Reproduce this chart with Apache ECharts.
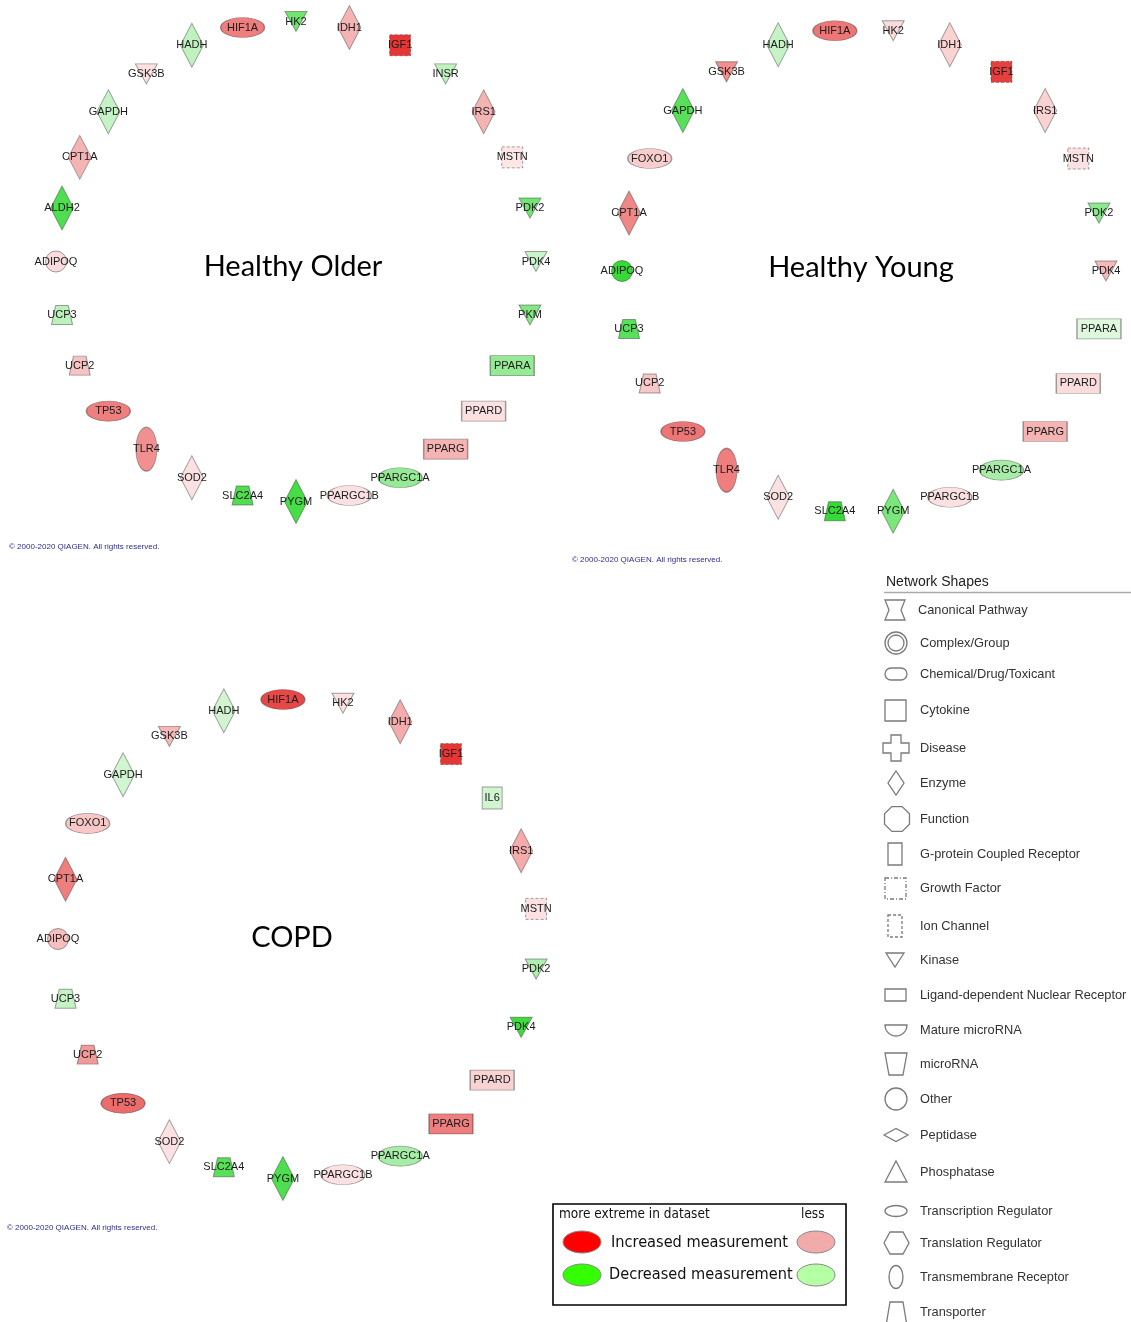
<!DOCTYPE html>
<html>
<head>
<meta charset="utf-8">
<script src="https://cdn.jsdelivr.net/npm/echarts@6/dist/echarts.min.js"></script>
<style>
  html, body { margin: 0; padding: 0; background: #ffffff; }
  #chart { width: 1131px; height: 1322px; }
</style>
</head>
<body>
<div id="chart"></div>
<script>
// Genes of each network, in the order they sit around the circle (alphabetical, clockwise from the left)
const olderGenes = ['ADIPOQ','ALDH2','CPT1A','GAPDH','GSK3B','HADH','HIF1A','HK2','IDH1','IGF1','INSR','IRS1','MSTN','PDK2','PDK4','PKM','PPARA','PPARD','PPARG','PPARGC1A','PPARGC1B','PYGM','SLC2A4','SOD2','TLR4','TP53','UCP2','UCP3'];
const olderValues = [0.7,-2.6,1.5,-1.1,0.6,-1.2,2.1,-2.2,1.5,2.9,-1.2,1.5,0.5,-2.2,-1.0,-2.0,-1.8,0.6,1.5,-1.8,0.6,-2.7,-2.6,0.6,1.9,2.1,1.2,-1.3];

const youngGenes = ['ADIPOQ','CPT1A','FOXO1','GAPDH','GSK3B','HADH','HIF1A','HK2','IDH1','IGF1','IRS1','MSTN','PDK2','PDK4','PPARA','PPARD','PPARG','PPARGC1A','PPARGC1B','PYGM','SLC2A4','SOD2','TLR4','TP53','UCP2','UCP3'];
const youngValues = [-2.9,2.0,1.0,-2.5,1.9,-1.1,2.2,0.7,0.9,2.8,0.9,0.6,-1.9,1.4,-0.6,0.7,1.5,-1.6,0.6,-2.1,-2.9,0.6,2.1,2.2,1.1,-2.5];

const copdGenes = ['ADIPOQ','CPT1A','FOXO1','GAPDH','GSK3B','HADH','HIF1A','HK2','IDH1','IGF1','IL6','IRS1','MSTN','PDK2','PDK4','PPARD','PPARG','PPARGC1A','PPARGC1B','PYGM','SLC2A4','SOD2','TP53','UCP2','UCP3'];
const copdValues = [1.3,2.1,1.1,-0.9,1.4,-0.9,2.7,0.6,1.6,2.9,-0.9,1.6,0.6,-1.5,-2.8,0.9,2.1,-1.6,0.6,-2.6,-2.5,0.6,2.3,1.8,-1.1];

const networkTitles = ['Healthy Older','Healthy Young','COPD'];

// Molecule type of each gene (decides the node shape)
const geneType = {
  ADIPOQ:'other', ALDH2:'enzyme', CPT1A:'enzyme', FOXO1:'transcription', GAPDH:'enzyme',
  GSK3B:'kinase', HADH:'enzyme', HIF1A:'transcription', HK2:'kinase', IDH1:'enzyme',
  IGF1:'growth', IL6:'cytokine', INSR:'kinase', IRS1:'enzyme', MSTN:'growth',
  PDK2:'kinase', PDK4:'kinase', PKM:'kinase', PPARA:'nuclear', PPARD:'nuclear',
  PPARG:'nuclear', PPARGC1A:'transcription', PPARGC1B:'transcription', PYGM:'enzyme',
  SLC2A4:'transporter', SOD2:'enzyme', TLR4:'transmembrane', TP53:'transcription',
  UCP2:'transporter', UCP3:'transporter'
};

const shapeNames = ['Canonical Pathway','Complex/Group','Chemical/Drug/Toxicant','Cytokine','Disease','Enzyme','Function','G-protein Coupled Receptor','Growth Factor','Ion Channel','Kinase','Ligand-dependent Nuclear Receptor','Mature microRNA','microRNA','Other','Peptidase','Phosphatase','Transcription Regulator','Translation Regulator','Transmembrane Receptor','Transporter'];

const ELLIPSE = 'path://M0,1C0,0.4477,0.4477,0,1,0C1.5523,0,2,0.4477,2,1C2,1.5523,1.5523,2,1,2C0.4477,2,0,1.5523,0,1Z';
const SHAPES = {
  enzyme:        { symbol: 'diamond', size: [23, 44] },
  kinase:        { symbol: 'path://M0,0L20,0L10,20Z', size: [22, 20] },
  transcription: { symbol: ELLIPSE, size: [44, 20] },
  transmembrane: { symbol: ELLIPSE, size: [21, 44] },
  growth:        { symbol: 'rect', size: [21, 21], dashed: true },
  cytokine:      { symbol: 'rect', size: [20, 22] },
  nuclear:       { symbol: 'rect', size: [44, 20] },
  transporter:   { symbol: 'path://M4,0L16,0L20,20L0,20Z', size: [21, 19] },
  other:         { symbol: 'circle', size: [21, 21] }
};

const networks = [
  { genes: olderGenes, values: olderValues, center: [296, 261.5], radius: 240 },
  { genes: youngGenes, values: youngValues, center: [864, 271], radius: 242 },
  { genes: copdGenes,  values: copdValues,  center: [298, 939], radius: 240 }
];

const LABEL_FONT = '"Liberation Sans", Arial, sans-serif';

const polar = networks.map(n => ({ center: n.center, radius: n.radius }));
const angleAxis = networks.map((n, i) => ({
  polarIndex: i, type: 'category', data: n.genes, show: false,
  startAngle: 180 + 180 / n.genes.length, clockwise: true
}));
const radiusAxis = networks.map((n, i) => ({
  polarIndex: i, type: 'value', min: 0, max: 1, show: false
}));

const series = networks.map((n, idx) => ({
  type: 'scatter',
  coordinateSystem: 'polar',
  polarIndex: idx,
  silent: true,
  animation: false,
  data: n.genes.map((g, i) => {
    const s = SHAPES[geneType[g]];
    const item = { name: g, value: [1, i, n.values[i]], symbol: s.symbol, symbolSize: s.size };
    if (s.dashed) item.itemStyle = { borderType: [3, 2] };
    return item;
  }),
  itemStyle: { borderColor: 'rgba(50,50,50,0.45)', borderWidth: 1, opacity: 1 },
  label: {
    show: true, position: 'inside', formatter: '{b}',
    color: '#1c1c1c', fontSize: 11, fontFamily: LABEL_FONT
  }
}));

// Legend of node shapes
const iconStyle = { fill: 'none', stroke: '#7b7b7b', lineWidth: 1.3 };
const rowY = [610,643,674,710,748,783,819,854,888,926,960,995,1030,1064,1099,1135,1172,1211,1243,1277,1312];
function pts(list, dx, dy) { return list.map(p => [p[0] + dx, p[1] + dy]); }
function halfEllipse(cx, top, rx, ry) {
  const p = [];
  for (let k = 0; k <= 24; k++) {
    const a = Math.PI * k / 24;
    p.push([cx + rx * Math.cos(a), top + ry * Math.sin(a)]);
  }
  return p;
}
function octagon(cx, cy, r) {
  const p = [];
  for (let k = 0; k < 8; k++) {
    const a = Math.PI / 8 + k * Math.PI / 4;
    p.push([cx + r * Math.cos(a), cy + r * Math.sin(a)]);
  }
  return p;
}
const icons = [
  { type: 'polygon', shape: { points: pts([[-10,-10],[10,-10],[6,0],[10,10],[-10,10],[-6,0]], 895, rowY[0]) }, style: iconStyle },
  { type: 'group', children: [
    { type: 'circle', shape: { cx: 896, cy: rowY[1], r: 11 }, style: iconStyle },
    { type: 'circle', shape: { cx: 896, cy: rowY[1], r: 8 }, style: iconStyle }
  ]},
  { type: 'rect', shape: { x: 885, y: rowY[2] - 6, width: 22, height: 12, r: 6 }, style: iconStyle },
  { type: 'rect', shape: { x: 885, y: rowY[3] - 10, width: 21, height: 21 }, style: iconStyle },
  { type: 'polygon', shape: { points: pts([[-5,-13],[5,-13],[5,-5],[13,-5],[13,5],[5,5],[5,13],[-5,13],[-5,5],[-13,5],[-13,-5],[-5,-5]], 896, rowY[4]) }, style: iconStyle },
  { type: 'polygon', shape: { points: pts([[0,-12],[8,0],[0,12],[-8,0]], 896, rowY[5]) }, style: iconStyle },
  { type: 'polygon', shape: { points: octagon(897, rowY[6], 13.5) }, style: iconStyle },
  { type: 'rect', shape: { x: 888, y: rowY[7] - 11, width: 14, height: 22 }, style: iconStyle },
  { type: 'rect', shape: { x: 885, y: rowY[8] - 10, width: 21, height: 21 }, style: Object.assign({ lineDash: [4, 2, 1, 2] }, iconStyle) },
  { type: 'rect', shape: { x: 888, y: rowY[9] - 11, width: 14, height: 22 }, style: Object.assign({ lineDash: [3, 2] }, iconStyle) },
  { type: 'polygon', shape: { points: pts([[-9,-7],[9,-7],[0,7]], 895, rowY[10]) }, style: iconStyle },
  { type: 'rect', shape: { x: 885, y: rowY[11] - 6, width: 21, height: 12 }, style: iconStyle },
  { type: 'polygon', shape: { points: halfEllipse(896, rowY[12] - 5, 11, 11) }, style: iconStyle },
  { type: 'polygon', shape: { points: pts([[-11,-11],[11,-11],[7,11],[-7,11]], 896, rowY[13]) }, style: iconStyle },
  { type: 'circle', shape: { cx: 896, cy: rowY[14], r: 11 }, style: iconStyle },
  { type: 'polygon', shape: { points: pts([[-12,0],[0,-6.5],[12,0],[0,6.5]], 896, rowY[15]) }, style: iconStyle },
  { type: 'polygon', shape: { points: pts([[0,-11],[11,10],[-11,10]], 896, rowY[16]) }, style: iconStyle },
  { type: 'ellipse', shape: { cx: 896, cy: rowY[17], rx: 11, ry: 5.5 }, style: iconStyle },
  { type: 'polygon', shape: { points: pts([[-12,0],[-6,-11],[7,-11],[13,0],[7,11],[-6,11]], 896, rowY[18]) }, style: iconStyle },
  { type: 'ellipse', shape: { cx: 896, cy: rowY[19], rx: 7, ry: 11.5 }, style: iconStyle },
  { type: 'polygon', shape: { points: pts([[-6,-10],[7,-10],[12,20],[-11,20]], 896, rowY[20]) }, style: iconStyle }
];
const shapeTexts = shapeNames.map((t, i) => ({
  type: 'text', x: i === 0 ? 918 : 920, y: rowY[i],
  style: { text: t, fill: '#333', fontSize: 12.8, fontFamily: LABEL_FONT, align: 'left', verticalAlign: 'middle', textAlign: 'left', textVerticalAlign: 'middle' }
}));

function txt(t, x, y, size, family, color, align) {
  return { type: 'text', x: x, y: y, style: {
    text: t, fill: color, fontSize: size, fontFamily: family,
    align: align || 'left', verticalAlign: 'middle',
    textAlign: align || 'left', textVerticalAlign: 'middle'
  }};
}

const TITLE_FONT = 'Lato, "Open Sans", sans-serif';
const COPY = '\u00a9 2000-2020 QIAGEN. All rights reserved.';
const KEY_FONT = '"DejaVu Sans Condensed", "DejaVu Sans", sans-serif';

const graphic = [
  txt(networkTitles[0], 293, 267, 29, TITLE_FONT, '#000', 'center'),
  txt(networkTitles[1], 861, 268, 29, TITLE_FONT, '#000', 'center'),
  txt(networkTitles[2], 292, 938, 29, TITLE_FONT, '#000', 'center'),
  txt(COPY, 9, 547, 8, LABEL_FONT, '#2d2d8c'),
  txt(COPY, 572, 560, 8, LABEL_FONT, '#2d2d8c'),
  txt(COPY, 7, 1228, 8, LABEL_FONT, '#2d2d8c'),
  // shape key
  txt('Network Shapes', 886, 582, 14, LABEL_FONT, '#222'),
  { type: 'line', shape: { x1: 884, y1: 592.5, x2: 1131, y2: 592.5 }, style: { stroke: '#aaaaaa', lineWidth: 1.5 } },
  ...icons, ...shapeTexts,
  // colour key
  { type: 'rect', shape: { x: 553, y: 1204, width: 293, height: 101 }, style: { fill: '#fff', stroke: '#000', lineWidth: 1.6 } },
  txt('more extreme in dataset', 559, 1214, 13.5, KEY_FONT, '#111'),
  txt('less', 801, 1214, 13.5, KEY_FONT, '#111'),
  { type: 'ellipse', shape: { cx: 582, cy: 1242, rx: 19, ry: 11 }, style: { fill: '#ff0000', stroke: '#888', lineWidth: 1 } },
  { type: 'ellipse', shape: { cx: 816, cy: 1242, rx: 19, ry: 11 }, style: { fill: '#f2abab', stroke: '#888', lineWidth: 1 } },
  { type: 'ellipse', shape: { cx: 582, cy: 1275, rx: 19, ry: 11 }, style: { fill: '#33ff00', stroke: '#888', lineWidth: 1 } },
  { type: 'ellipse', shape: { cx: 816, cy: 1275, rx: 19, ry: 11 }, style: { fill: '#b5ffa4', stroke: '#888', lineWidth: 1 } },
  txt('Increased measurement', 611, 1243, 16.2, KEY_FONT, '#111'),
  txt('Decreased measurement', 609, 1275, 16.2, KEY_FONT, '#111')
];

const chart = echarts.init(document.getElementById('chart'), null, { renderer: 'canvas' });
chart.setOption({
  animation: false,
  backgroundColor: '#ffffff',
  polar: polar,
  angleAxis: angleAxis,
  radiusAxis: radiusAxis,
  visualMap: {
    type: 'continuous', show: false, dimension: 2, seriesIndex: [0, 1, 2],
    min: -3, max: 3,
    inRange: { color: ['#2cd82c', '#b0efb0', '#ffffff', '#f5b4b4', '#e52c2c'] }
  },
  series: series,
  graphic: graphic
});
</script>
</body>
</html>
